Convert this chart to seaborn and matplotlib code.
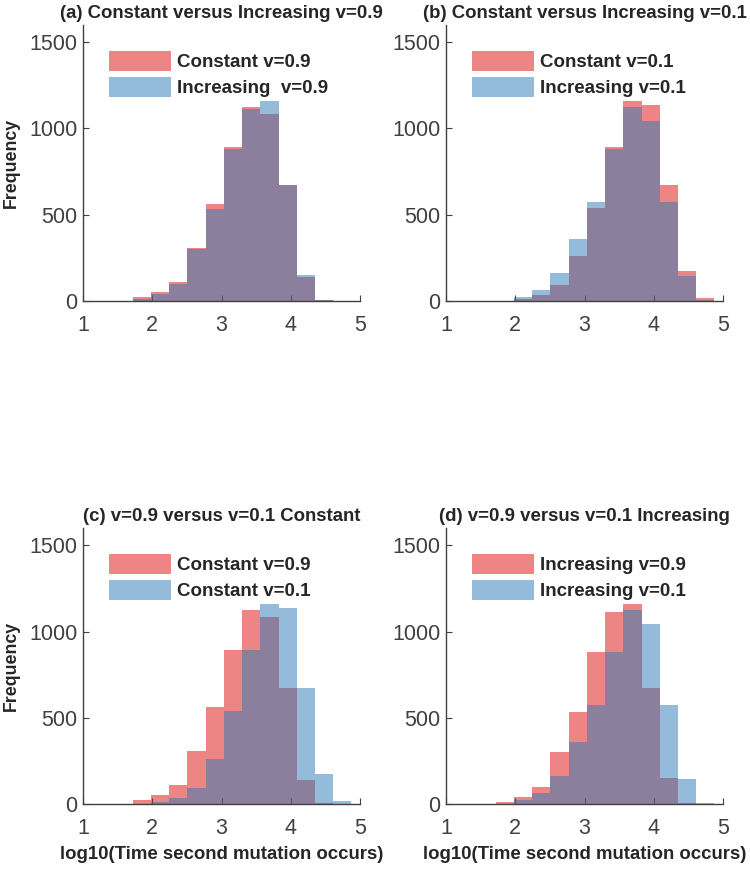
import numpy as np
import seaborn as sns
import matplotlib.pyplot as plt

# histogram bins (log10 time)
bin_edges = [1.720, 1.983, 2.246, 2.509, 2.772, 3.035, 3.298,
             3.561, 3.824, 4.087, 4.350, 4.613, 4.876]

# counts per bin for each scenario
constant_09 = [25, 50, 112, 305, 563, 890, 1125, 1085, 671, 139, 3, 0]
increasing_09 = [14, 40, 96, 304, 532, 884, 1114, 1160, 671, 150, 8, 0]
constant_01 = [0, 11, 34, 93, 259, 542, 895, 1160, 1134, 672, 173, 18]
increasing_01 = [0, 25, 66, 164, 361, 575, 881, 1127, 1043, 574, 146, 3]

titles = ['(a) Constant versus Increasing v=0.9',
          '(b) Constant versus Increasing v=0.1',
          '(c) v=0.9 versus v=0.1 Constant',
          '(d) v=0.9 versus v=0.1 Increasing']
legend_labels = [['Constant v=0.9', 'Increasing  v=0.9'],
                 ['Constant v=0.1', 'Increasing v=0.1'],
                 ['Constant v=0.9', 'Constant v=0.1'],
                 ['Increasing v=0.9', 'Increasing v=0.1']]
panel_series = [[constant_09, increasing_09],
                [constant_01, increasing_01],
                [constant_09, constant_01],
                [increasing_09, increasing_01]]

sns.set_style('ticks')
plt.rcParams['font.family'] = ['Liberation Sans', 'DejaVu Sans']

red = (0.87, 0.05, 0.05)
blue = (0.17, 0.47, 0.71)
axis_grey = '#404040'

centers = [(a + b) / 2 for a, b in zip(bin_edges[:-1], bin_edges[1:])]

fig = plt.figure(figsize=(7.5, 8.69), dpi=100)
W, H = 750, 869
boxes = [(83, 25), (446, 25), (83, 528), (446, 528)]

for i, (x0, y0) in enumerate(boxes):
    ax = fig.add_axes([x0 / W, 1 - (y0 + 276) / H, 277 / W, 276 / H])
    first, second = panel_series[i]
    lab1, lab2 = legend_labels[i]
    sns.histplot(x=centers, weights=first, bins=bin_edges, color=red,
                 alpha=0.5, edgecolor='none', linewidth=0, label=lab1, ax=ax)
    sns.histplot(x=centers, weights=second, bins=bin_edges, color=blue,
                 alpha=0.5, edgecolor='none', linewidth=0, label=lab2, ax=ax)

    ax.set_xlim(1, 5)
    ax.set_ylim(0, 1600)
    ax.set_xticks([1, 2, 3, 4, 5])
    ax.set_yticks([0, 500, 1000, 1500])
    ax.tick_params(direction='in', length=4, labelsize=15.5, colors=axis_grey,
                   labelcolor=axis_grey)
    ax.tick_params(axis='x', pad=10)
    ax.tick_params(axis='y', pad=4)
    sns.despine(ax=ax)
    for s in ['left', 'bottom']:
        ax.spines[s].set_color(axis_grey)
        ax.spines[s].set_linewidth(1.0)

    ax.set_title(titles[i], fontsize=13.4, fontweight='bold', pad=5)
    ax.set_ylabel('Frequency' if i % 2 == 0 else '', fontsize=12.8,
                  fontweight='bold', labelpad=7)
    ax.set_xlabel('log10(Time second mutation occurs)' if i >= 2 else '',
                  fontsize=13.4, fontweight='bold', labelpad=5)

    ax.legend(loc='upper left', bbox_to_anchor=(0.095, 0.905), frameon=False,
              handlelength=3.3, handleheight=1.25, handletextpad=0.3,
              labelspacing=0.3, borderaxespad=0, borderpad=0,
              prop={'weight': 'bold', 'size': 13.5})

plt.savefig('out.png', dpi=100)
plt.close()
